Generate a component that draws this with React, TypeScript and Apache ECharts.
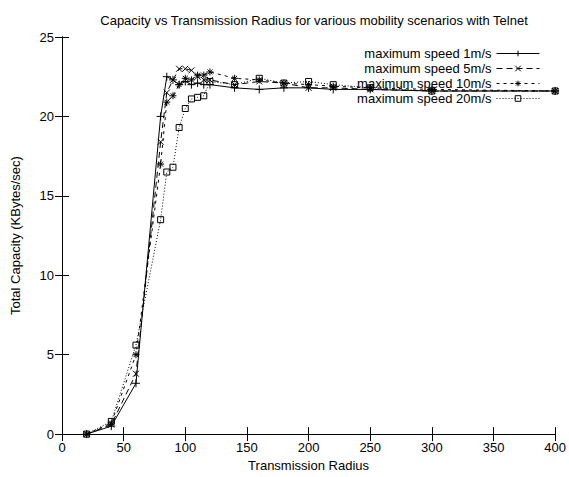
import React, { useEffect, useRef } from "react";
import * as echarts from "echarts";

const radius = [20, 40, 60, 80, 85, 90, 95, 100, 105, 110, 115, 120, 140, 160, 180, 200, 220, 250, 300, 400];
const speed1 = [0, 0.5, 3.2, 20.0, 22.5, 22.3, 22.0, 22.2, 22.0, 22.1, 22.0, 22.0, 21.8, 21.7, 21.8, 21.8, 21.7, 21.7, 21.6, 21.6];
const speed5 = [0, 0.6, 3.8, 18.4, 21.5, 22.3, 23.0, 23.0, 22.9, 22.5, 22.3, 22.3, 22.0, 22.2, 22.1, 21.8, 21.8, 21.7, 21.6, 21.6];
const speed10 = [0, 0.7, 5.0, 17.0, 20.9, 21.3, 22.0, 22.4, 22.3, 22.6, 22.6, 22.8, 22.4, 22.3, 22.1, 22.0, 21.9, 21.8, 21.7, 21.6];
const speed20 = [0, 0.8, 5.6, 13.5, 16.5, 16.8, 19.3, 20.5, 21.1, 21.2, 21.3, 22.2, 22.0, 22.4, 22.1, 22.2, 22.0, 21.8, 21.6, 21.6];
const seriesNames = ["maximum speed 1m/s", "maximum speed 5m/s", "maximum speed 10m/s", "maximum speed 20m/s"];

const FONT = "Liberation Sans, Arial, sans-serif";

export default function App() {
  const ref = useRef<HTMLDivElement>(null);
  useEffect(() => {
    if (!ref.current) return;
    const chart = echarts.init(ref.current, null, { renderer: "svg" });
    const pair = (ys: number[]) => radius.map((x, i) => [x, ys[i]]);
    const mk = (name: string, ys: number[], symbol: string, size: number, dash: any) => ({
      name,
      type: "line",
      data: pair(ys),
      symbol,
      symbolSize: size,
      showAllSymbol: true,
      lineStyle: { color: "#000", width: 1, type: dash },
      itemStyle: { color: "transparent", borderColor: "#000", borderWidth: 1 },
      emphasis: { disabled: true },
    });
    const axisCommon = {
      axisLine: { show: true, lineStyle: { color: "#000", width: 1 } },
      axisTick: { show: true, inside: true, length: 7, lineStyle: { color: "#000" } },
      splitLine: { show: false },
    };
    chart.setOption({
      animation: false,
      backgroundColor: "#fff",
      textStyle: { fontFamily: FONT },
      title: {
        text: "Capacity vs Transmission Radius for various mobility scenarios with Telnet",
        left: 309,
        textAlign: "center",
        top: 9,
        textStyle: { fontSize: 13, fontWeight: "normal", color: "#000", fontFamily: FONT },
      },
      legend: {
        orient: "vertical",
        right: 24,
        top: 42,
        align: "right",
        itemWidth: 43,
        itemHeight: 7,
        itemGap: 2,
        itemStyle: { color: "transparent", borderColor: "#000", borderWidth: 1 },
        lineStyle: { color: "#000", width: 1 },
        textStyle: { fontSize: 13, color: "#000", fontFamily: FONT, lineHeight: 13 },
        data: seriesNames,
      },
      grid: { left: 62, right: 13, top: 37, bottom: 41 },
      xAxis: [
        {
          type: "value",
          min: 0,
          max: 400,
          interval: 50,
          name: "Transmission Radius",
          nameLocation: "middle",
          nameGap: 24,
          nameTextStyle: { fontSize: 13, color: "#000", fontFamily: FONT },
          axisLabel: { fontSize: 13, color: "#000", margin: 7, fontFamily: FONT },
          ...axisCommon,
        },
        {
          type: "value",
          position: "top",
          min: 0,
          max: 400,
          interval: 50,
          axisLabel: { show: false },
          ...axisCommon,
        },
      ],
      yAxis: [
        {
          type: "value",
          min: 0,
          max: 25,
          interval: 5,
          name: "Total Capacity (KBytes/sec)",
          nameLocation: "middle",
          nameGap: 40,
          nameTextStyle: { fontSize: 13, color: "#000", fontFamily: FONT },
          axisLabel: { fontSize: 13, color: "#000", margin: 8, fontFamily: FONT },
          ...axisCommon,
        },
        {
          type: "value",
          position: "right",
          min: 0,
          max: 25,
          interval: 5,
          axisLabel: { show: false },
          ...axisCommon,
        },
      ],
      series: [
        mk(seriesNames[0], speed1, "path://M0,5L10,5M5,0L5,10", 8, "solid"),
        mk(seriesNames[1], speed5, "path://M0,0L10,10M10,0L0,10", 6, [6, 4]),
        mk(seriesNames[2], speed10, "path://M5,0L5,10M0,5L10,5M1.5,1.5L8.5,8.5M8.5,1.5L1.5,8.5", 7, [3, 4]),
        mk(seriesNames[3], speed20, "rect", 6, [1, 2]),
      ],
    });
    return () => chart.dispose();
  }, []);
  return <div ref={ref} style={{ position: "fixed", left: 0, top: 0, width: 569, height: 477 }} />;
}
